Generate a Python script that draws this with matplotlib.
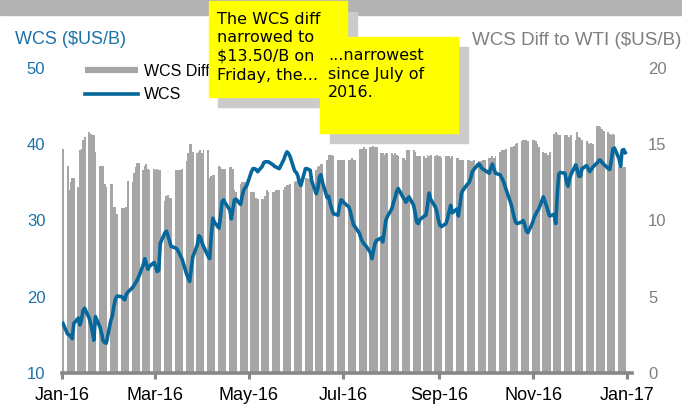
import pandas as pd
import matplotlib
matplotlib.use('Agg')
import matplotlib.pyplot as plt
from matplotlib.lines import Line2D
from matplotlib.patches import Rectangle

plt.rcParams['font.family'] = ['Liberation Sans', 'DejaVu Sans']

# business days of 2016 (Jan 1 + 52 weeks)
dates = pd.bdate_range('2016-01-01', '2016-12-30')

# WCS differential to WTI ($US/B), right axis - one row per week
wcs_diff = [
    14.7,
    13.6, 12.0, 12.5, 12.8, 12.8,
    12.2, 14.6, 14.7, 15.3, 15.5,
    15.8, 15.7, 15.6, 15.6, 14.5,
    13.6, 13.6, 13.6, 12.4, 12.2,
    12.4, 12.4, 10.9, 10.9, 10.4,
    10.8, 10.8, 10.8, 10.9, 12.6,
    12.5, 13.1, 13.5, 13.8, 13.8,
    13.3, 13.6, 13.7, 13.4, 13.3,
    13.4, 13.3, 13.4, 13.3, 13.3,
    11.3, 11.6, 11.7, 11.5, 11.5,
    13.3, 13.3, 13.3, 13.3, 13.4,
    13.9, 14.4, 15.0, 15.0, 14.5,
    14.4, 14.5, 14.6, 14.4, 14.6,
    14.6, 12.8, 12.9, 13.0, 13.0,
    13.6, 13.5, 13.4, 13.4, 13.4,
    13.5, 13.5, 13.4, 12.0, 11.9,
    12.4, 12.5, 12.5, 12.5, 12.5,
    11.9, 11.9, 11.9, 11.5, 11.4,
    11.4, 11.4, 11.6, 12.0, 11.9,
    11.9, 11.9, 12.0, 12.0, 12.0,
    12.0, 12.2, 12.3, 12.3, 12.4,
    12.5, 12.6, 12.5, 12.6, 12.6,
    12.8, 12.8, 12.7, 12.8, 12.9,
    13.3, 13.5, 13.6, 13.7, 13.7,
    14.0, 14.3, 14.3, 14.3, 14.2,
    14.0, 14.0, 14.0, 14.0, 14.0,
    14.0, 14.0, 14.1, 14.0, 14.0,
    14.7, 14.7, 14.7, 14.8, 14.7,
    14.8, 14.8, 14.9, 14.8, 14.8,
    14.4, 14.4, 14.3, 14.4, 14.4,
    14.4, 14.3, 14.4, 14.3, 14.2,
    14.1, 14.1, 14.0, 14.6, 14.6,
    14.6, 14.5, 14.2, 14.2, 14.2,
    14.2, 14.1, 14.3, 14.2, 14.3,
    14.2, 14.3, 14.2, 14.2, 14.1,
    14.2, 14.2, 14.2, 14.1, 14.2,
    14.1, 14.1, 14.0, 14.0, 14.0,
    14.0, 14.0, 13.9, 13.9, 14.0,
    13.9, 13.9, 13.9, 14.0, 14.0,
    14.1, 14.1, 14.2, 14.1, 14.2,
    14.5, 14.6, 14.6, 14.6, 14.7,
    14.8, 14.8, 14.9, 15.0, 15.1,
    15.2, 15.3, 15.3, 15.3, 15.2,
    15.3, 15.3, 15.2, 15.0, 14.8,
    14.5, 14.4, 14.4, 14.3, 14.5,
    15.7, 15.8, 15.7, 15.6, 15.6,
    15.6, 15.6, 15.5, 15.5, 15.6,
    15.3, 15.8, 15.5, 15.4, 15.3,
    15.2, 15.1, 15.0, 15.1, 15.0,
    16.2, 16.2, 16.1, 16.0, 15.9,
    15.8, 15.7, 15.6, 15.7, 15.6,
    13.5, 13.5, 13.5, 13.5, 13.5,
]

# WCS price ($US/B), left axis
wcs = [
    16.5,
    15.1, 15.0, 14.8, 14.5, 16.5,
    17.2, 16.3, 17.0, 18.2, 18.5,
    17.2, 16.4, 15.5, 14.3, 17.4,
    16.0, 15.2, 14.2, 14.0, 13.9,
    16.9, 17.5, 18.8, 19.7, 20.1,
    20.0, 19.8, 19.6, 20.3, 20.6,
    21.2, 21.5, 21.8, 22.2, 22.6,
    24.2, 25.0, 24.3, 23.6, 24.0,
    24.5, 24.0, 23.3, 23.5, 27.0,
    28.4, 28.6, 28.0, 27.3, 26.6,
    26.4, 26.2, 25.8, 25.4, 25.0,
    23.0, 22.5, 22.0, 23.6, 25.2,
    26.8, 28.0, 27.8, 27.1, 26.6,
    25.3, 25.0, 28.0, 30.3, 29.8,
    29.0, 30.5, 32.5, 32.7, 32.3,
    31.4, 30.2, 31.5, 32.7, 32.8,
    32.1, 33.2, 34.0, 34.3, 34.6,
    36.4, 36.8, 36.8, 36.7, 36.4,
    37.1, 37.6, 37.7, 37.7, 37.7,
    37.3, 37.1, 37.0, 36.9, 36.8,
    38.0, 38.6, 39.0, 38.8, 38.4,
    36.5, 36.3, 35.9, 35.0, 34.6,
    36.8, 36.8, 36.7, 36.6, 35.2,
    33.5, 34.2, 35.7, 36.0, 35.0,
    33.0, 33.2, 32.2, 31.5, 30.9,
    30.7, 31.8, 32.7, 32.6, 32.3,
    31.8, 31.2, 30.3, 29.5, 29.2,
    28.3, 27.6, 27.2, 26.9, 26.7,
    25.8, 25.0, 26.0, 27.0, 27.4,
    27.7, 27.2, 28.5, 30.0, 30.5,
    31.6, 32.4, 33.0, 33.8, 34.2,
    33.1, 32.8, 32.4, 32.8, 33.1,
    32.0, 31.0, 29.8, 29.6, 30.1,
    30.6, 30.7, 32.0, 33.6, 32.8,
    31.8, 31.2, 30.1, 29.4, 29.2,
    29.6, 30.3, 31.2, 32.0, 31.0,
    31.5, 30.6, 32.0, 33.6, 34.0,
    34.8, 35.0, 35.6, 36.4, 36.7,
    37.4, 37.3, 36.9, 36.7, 36.6,
    36.2, 36.9, 37.4, 36.8, 36.2,
    36.0, 35.6, 35.2, 34.6, 34.0,
    32.2, 31.4, 30.5, 29.8, 29.6,
    29.8, 30.0, 29.4, 28.6, 28.4,
    29.7, 30.4, 30.8, 31.2, 31.5,
    33.1, 32.5, 31.9, 31.2, 30.6,
    30.8, 29.6, 33.5, 36.1, 36.3,
    36.2, 35.0, 34.5, 35.5, 36.1,
    37.3, 36.6, 35.8, 35.8, 36.8,
    37.2, 36.8, 36.4, 36.7, 37.0,
    37.6, 37.9, 37.9, 37.6, 37.4,
    36.8, 36.7, 37.9, 39.4, 39.5,
    38.1, 37.1, 39.2, 39.3, 38.9,
]

tick_dates = pd.date_range('2016-01-01', '2017-01-01', freq='2MS')
tick_labels = ['Jan-16', 'Mar-16', 'May-16', 'Jul-16', 'Sep-16', 'Nov-16', 'Jan-17']
note1_lines = ['The WCS diff', 'narrowed to', '$13.50/B on', 'Friday, the...']
note2_lines = ['...narrowest', 'since July of', '2016.']

BLUE = '#05679b'
BLUE_TXT = '#1b72a8'
GREY_BAR = '#a6a6a6'
GREY_TXT = '#7f7f7f'
AXIS_GREY = '#878787'

W, H = 682, 407
fig = plt.figure(figsize=(W / 100, H / 100), dpi=100)


def box(x0, y0, x1, y1):
    # pixel box (top-left origin) -> figure fraction rectangle args
    return (x0 / W, 1 - y1 / H), (x1 - x0) / W, (y1 - y0) / H


ax = fig.add_axes([62 / W, 34 / H, 570 / W, 305 / H])
ax2 = ax.twinx()

# daily bars, slightly overlapping so each week reads as one block
ax2.bar(dates, wcs_diff, width=1.25, align='edge', color=GREY_BAR,
        linewidth=0, antialiased=False)
ax.plot(dates + pd.Timedelta(hours=15), wcs, color=BLUE, lw=2.6,
        solid_joinstyle='round')

ax.set_zorder(ax2.get_zorder() + 1)
ax.patch.set_visible(False)

ax.set_xlim(pd.Timestamp('2016-01-01'), pd.Timestamp('2017-01-04'))
ax.set_ylim(10, 50)
ax.set_yticks([10, 20, 30, 40, 50])
ax2.set_ylim(0, 20)
ax2.set_yticks([0, 5, 10, 15, 20])
ax.set_xticks(tick_dates)
ax.set_xticklabels(tick_labels)

for s in ax.spines.values():
    s.set_visible(False)
for s in ax2.spines.values():
    s.set_visible(False)
ax.spines['bottom'].set_visible(True)
ax.spines['bottom'].set_color(AXIS_GREY)
ax.spines['bottom'].set_linewidth(2.6)

ax.tick_params(axis='x', length=4, width=2.2, color=AXIS_GREY, labelsize=13, pad=6)
ax.tick_params(axis='y', length=0, labelsize=12, labelcolor=BLUE_TXT, pad=12)
ax2.tick_params(axis='y', length=0, labelsize=12, labelcolor=GREY_TXT, pad=11.5)

handles = [Line2D([], [], color=GREY_BAR, lw=4.5, solid_capstyle='butt'),
           Line2D([], [], color=BLUE, lw=2.6)]
ax.legend(handles, ['WCS Diff.', 'WCS'], loc='center left',
          bbox_to_anchor=(85 / W, 1 - 83 / H), bbox_transform=fig.transFigure,
          frameon=False, fontsize=11.5, handlelength=3.3, handletextpad=0.4,
          labelspacing=0.55, borderpad=0, borderaxespad=0)

fig.text(15 / W, 1 - 40 / H, 'WCS ($US/B)', color=BLUE_TXT, fontsize=13, va='center')
fig.text(681 / W, 1 - 40.5 / H, 'WCS Diff to WTI ($US/B)', color=GREY_TXT,
         fontsize=13.5, va='center', ha='right')

# cut-off title band at the top
fig.add_artist(Rectangle(*box(0, 0, W, 15), color='#b3b3b3', zorder=5))

# sticky notes with drop shadows
for shadow, note in [((218, 12, 357, 107), (209, 1, 347, 97)),
                     ((330, 47, 468, 143), (320, 37, 458, 133))]:
    fig.add_artist(Rectangle(*box(*shadow), color='#cbcbcb', zorder=10))
    fig.add_artist(Rectangle(*box(*note), color='#ffff00', zorder=10))

for i, line in enumerate(note1_lines):
    fig.text(217 / W, 1 - (23.5 + 18.7 * i) / H, line, fontsize=11.5,
             family='DejaVu Sans', va='baseline', zorder=11)
for i, line in enumerate(note2_lines):
    fig.text(328 / W, 1 - (60 + 18.7 * i) / H, line, fontsize=11.5,
             family='DejaVu Sans', va='baseline', zorder=11)

fig.savefig('out.png', dpi=100)
